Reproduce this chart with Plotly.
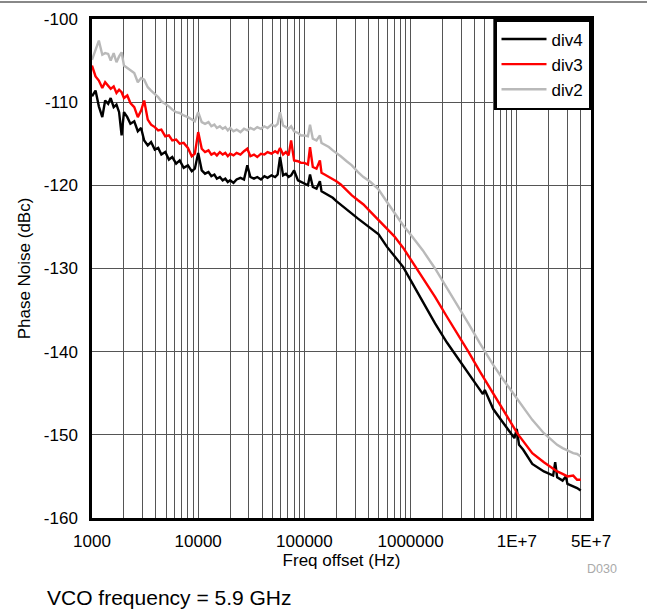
import plotly.graph_objects as go

# Frequency offsets (Hz)
freq = [
    1000, 1080, 1160, 1250, 1330, 1420, 1500, 1600, 1700, 1800, 1900, 2000, 2150, 2300, 2500, 2700,
    2900, 3100, 3350, 3600, 3900, 4200, 4500, 4900, 5300, 5700, 6200, 6700, 7300, 8000, 8700, 9300,
    10000, 10800, 11600, 12500, 13300, 14200, 15000, 16000, 17000, 18000, 19000, 20000, 21500, 23000,
    25000, 27000, 29000, 31000, 33500, 36000, 39000, 42000, 45000, 49000, 53000, 56000, 59000, 63000,
    67000, 71000, 75000, 80000, 87000, 93000,
    100000, 108000, 113000, 120000, 130000, 140000, 145000, 155000, 170000, 185000, 200000, 220000,
    250000, 280000, 320000, 360000, 420000, 500000, 600000, 700000, 850000,
    1000000, 1300000, 1700000, 2200000, 2800000, 3500000, 4500000, 4800000, 5000000, 6000000,
    7500000, 9000000, 9500000,
    10000000, 10500000, 11500000, 14000000, 18000000, 22000000, 23000000, 24000000, 27000000,
    29000000, 30000000, 34000000, 37000000, 40000000,
]

div4 = [
    -109.3, -108.6, -110.5, -111.8, -109.8, -110.2, -109.5, -110.6, -110.3, -111.2, -114.0, -111.2,
    -111.8, -112.6, -112.3, -113.5, -113.1, -114.6, -115.2, -114.8, -115.7, -115.5, -116.3, -116.0,
    -116.9, -116.6, -117.4, -117.0, -117.9, -117.6, -118.3, -118.0,
    -116.1, -118.2, -118.6, -118.4, -118.9, -118.7, -119.2, -119.0, -119.4, -119.2, -119.6, -119.4,
    -119.7, -119.3, -119.1, -119.3, -117.6, -119.0, -119.2, -119.0, -119.3, -118.9, -119.1, -118.8,
    -119.0, -118.7, -116.6, -118.8, -118.6, -119.0, -118.8, -118.2, -119.4, -119.6,
    -119.8, -120.0, -118.7, -120.2, -120.4, -119.5, -120.7, -120.9, -121.2, -121.5, -121.9, -122.3,
    -122.9, -123.4, -124.0, -124.5, -125.1, -125.9, -127.4, -128.5, -129.8,
    -131.4, -134.0, -136.6, -138.9, -140.8, -142.6, -144.5, -145.1, -144.6, -146.9, -148.6, -149.9,
    -150.4,
    -149.3, -151.2, -151.8, -153.5, -154.4, -154.9, -153.3, -155.1, -155.5, -155.0, -155.9, -156.2,
    -156.4, -156.7,
]

div3 = [
    -105.6, -106.9, -107.4, -108.3, -107.6, -108.0, -108.4, -108.1, -108.9, -108.5, -108.8, -109.5,
    -109.2, -110.1, -110.6, -111.8, -111.0, -109.8, -112.1, -112.7, -113.0, -113.4, -113.3, -114.1,
    -114.0, -114.6, -114.5, -115.0, -114.9, -115.5, -116.5, -116.2,
    -113.6, -115.6, -116.0, -115.8, -116.3, -116.1, -116.4, -116.0, -116.3, -116.1, -116.5, -116.2,
    -116.4, -116.1, -116.3, -115.9, -115.6, -116.5, -116.3, -116.6, -116.2, -116.3, -116.0, -116.2,
    -115.9, -116.1, -115.5, -116.3, -116.0, -116.4, -114.6, -117.0, -117.1, -117.3,
    -117.3, -117.5, -115.4, -117.8, -118.0, -117.0, -118.5, -118.7, -119.0, -119.2, -119.5, -119.9,
    -120.6, -121.2, -121.8, -122.3, -123.2, -124.2, -125.2, -126.1, -127.5,
    -128.9, -131.1, -133.4, -135.8, -137.9, -140.0, -142.4, -143.0, -143.3, -145.0, -147.0, -148.7,
    -149.2,
    -149.7, -150.1, -150.8, -152.2, -153.3, -154.1, -154.2, -154.4, -154.7, -154.9, -155.0, -154.9,
    -155.4, -155.4,
]

div2 = [
    -104.9, -103.8, -102.6, -104.3, -104.1, -104.2, -105.0, -104.1, -105.2, -104.5, -104.0, -105.6,
    -105.9, -106.2, -106.5, -107.6, -107.1, -107.3, -108.2, -108.6, -109.0, -109.4, -109.9, -110.2,
    -110.5, -110.9, -111.2, -111.3, -111.6, -111.8, -112.1, -112.3,
    -111.2, -112.4, -112.6, -112.4, -112.9, -112.7, -113.1, -112.9, -113.2, -113.0, -113.4, -113.1,
    -113.5, -113.3, -113.6, -113.2, -113.4, -113.1, -113.3, -113.0, -113.2, -112.9, -113.1, -112.7,
    -112.9, -112.6, -111.2, -112.8, -113.0, -113.2, -112.9, -113.5, -113.7, -114.0,
    -114.0, -114.1, -112.7, -114.4, -114.6, -114.0, -114.9, -115.1, -115.4, -115.8, -116.1, -116.5,
    -117.1, -117.6, -118.4, -119.0, -119.6, -120.5, -122.0, -123.3, -124.8,
    -125.9, -127.8, -130.0, -132.3, -134.6, -136.6, -139.0, -139.6, -140.0, -141.6, -143.4, -144.8,
    -145.3,
    -145.6, -146.0, -146.7, -148.2, -149.8, -150.8, -151.0, -151.2, -151.6, -151.8, -151.9, -152.2,
    -152.3, -152.6,
]

series_names = ["div4", "div3", "div2"]
series_colors = ["#000000", "#ff0000", "#b9b9b9"]

x_tick_vals = [1000, 10000, 100000, 1000000, 10000000, 50000000]
x_tick_text = ["1000", "10000", "100000", "1000000", "1E+7", "5E+7"]
y_tick_vals = [-160, -150, -140, -130, -120, -110, -100]
y_tick_text = ["-160", "-150", "-140", "-130", "-120", "-110", "-100"]

FONT = "Liberation Sans, Arial, sans-serif"

fig = go.Figure()
for name, ys, col in zip(series_names, [div4, div3, div2], series_colors):
    fig.add_trace(go.Scatter(x=freq, y=ys, mode="lines", name=name,
                             line=dict(color=col, width=2.4)))

minor_vals = [m * 10 ** d for d in range(3, 8) for m in range(2, 10) if m * 10 ** d < 5e7]

fig.update_layout(
    width=647, height=611,
    margin=dict(l=92, r=56, t=19, b=93),
    paper_bgcolor="white", plot_bgcolor="white",
    font=dict(family=FONT, size=17, color="#000000"),
    showlegend=True,
    legend=dict(x=1, y=1, xanchor="right", yanchor="top",
                bgcolor="white", bordercolor="#000000", borderwidth=2.5,
                font=dict(size=17), tracegroupgap=0, itemwidth=45),
    xaxis=dict(
        type="log", range=[3, 7.69897],
        tickvals=x_tick_vals, ticktext=x_tick_text,
        showgrid=True, gridcolor="#555555", gridwidth=1,
        minor=dict(tickvals=minor_vals, showgrid=True, gridcolor="#555555", gridwidth=1),
        showline=True, linecolor="#000000", linewidth=2.5, mirror=True,
        ticks="", ticklabelstandoff=6,
        zeroline=False, automargin=False,
        title=dict(text="Freq offset (Hz)", font=dict(size=17), standoff=0),
    ),
    yaxis=dict(
        range=[-160, -100], tickvals=y_tick_vals, ticktext=y_tick_text,
        showgrid=True, gridcolor="#555555", gridwidth=1,
        showline=True, linecolor="#000000", linewidth=2.5, mirror=True,
        ticks="", ticklabelstandoff=8,
        zeroline=False, automargin=False,
        title=dict(text="Phase Noise (dBc)", font=dict(size=17), standoff=9),
    ),
    shapes=[dict(type="line", xref="paper", yref="paper",
                 x0=-0.2, x1=1.2, y0=1.034, y1=1.034,
                 line=dict(color="#888888", width=2))],
    annotations=[
        dict(text="VCO frequency = 5.9 GHz", xref="paper", yref="paper",
             x=-0.094, y=-0.160, xanchor="left", yanchor="middle",
             showarrow=False, font=dict(size=21, color="#000000")),
        dict(text="D030", xref="paper", yref="paper",
             x=1.022, y=-0.102, xanchor="center", yanchor="middle",
             showarrow=False, font=dict(size=12.5, color="#aaaaaa")),
    ],
)

fig.write_html("out.html", config={"displayModeBar": False},
               post_script="document.body.style.margin='0px';")
